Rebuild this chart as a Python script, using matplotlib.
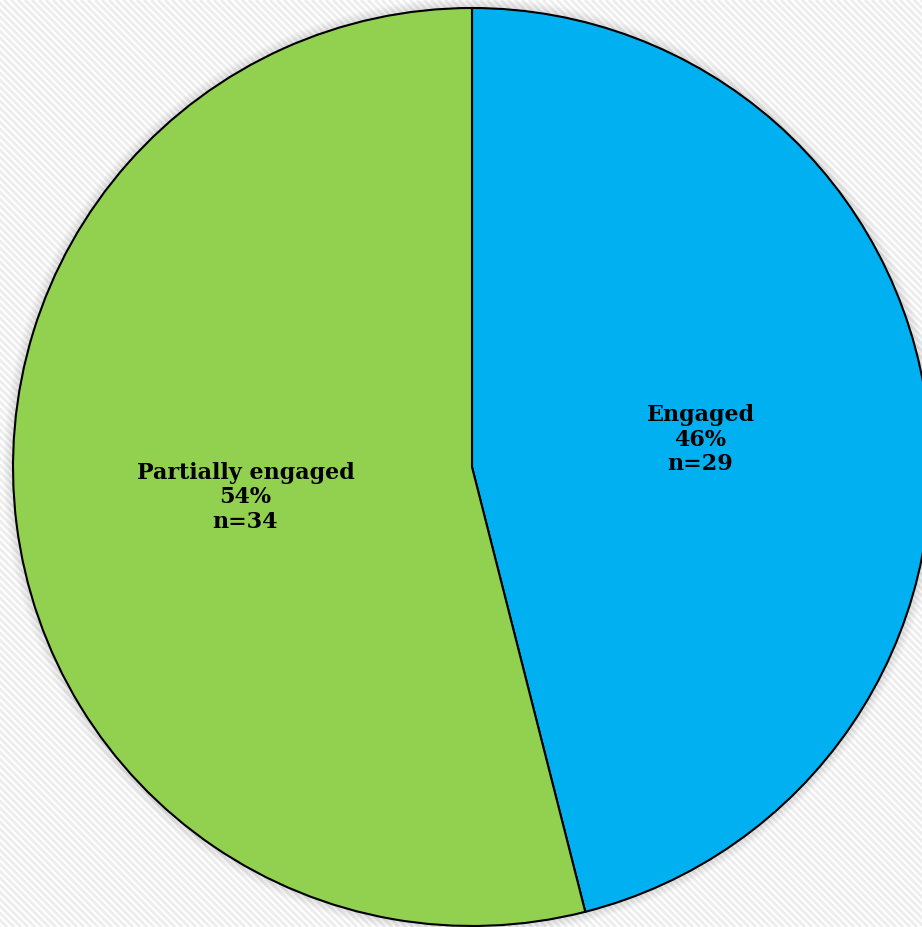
import matplotlib.pyplot as plt
import matplotlib.patches as mpatches
import numpy as np

# datos
categorias = ['Engaged', 'Partially engaged']
conteos = [29, 34]
porcentajes = [46, 54]
colores = ['#00B0F0', '#92D050']

W, H = 922, 927
fig = plt.figure(figsize=(W / 100, H / 100), dpi=100)
ax = fig.add_axes([0, 0, 1, 1])
ax.set_xlim(0, W)
ax.set_ylim(0, H)
ax.set_aspect('equal')
ax.axis('off')

# fondo rayado
ax.add_patch(mpatches.Rectangle((0, 0), W, H, color='white', zorder=0))
for x0 in np.arange(-H, W + H, 7):
    ax.plot([x0, x0 + H], [H, 0], color='#ededed', lw=2.0, zorder=1,
            solid_capstyle='butt')

cx, cy, r = 472, H - 467, 459

# sombra suave
for k in range(10):
    ax.add_patch(mpatches.Circle((cx, cy), r + 10 - k, color='black',
                                 alpha=0.01, lw=0, zorder=2))

etiquetas = [f'{c}\n{p}%\nn={n}' for c, p, n in zip(categorias, porcentajes, conteos)]
wedges, textos = ax.pie(conteos, labels=etiquetas, colors=colores, startangle=90,
                        counterclock=False, center=(cx, cy), radius=r,
                        labeldistance=0.48, frame=True,
                        wedgeprops=dict(edgecolor='black', linewidth=1.5),
                        textprops=dict(fontsize=16, fontweight='bold',
                                       family='DejaVu Serif', linespacing=1.15))
for w in wedges:
    w.set_zorder(3)
for t in textos:
    t.set_horizontalalignment('center')
    t.set_verticalalignment('center')
    t.set_zorder(4)
# pequeños ajustes de posición de las etiquetas
x, y = textos[0].get_position()
textos[0].set_position((x + 10, y))
x, y = textos[1].get_position()
textos[1].set_position((x - 8, y - 3))

ax.set_xlim(0, W)
ax.set_ylim(0, H)
ax.axis('off')

fig.savefig('out.png', dpi=100)
